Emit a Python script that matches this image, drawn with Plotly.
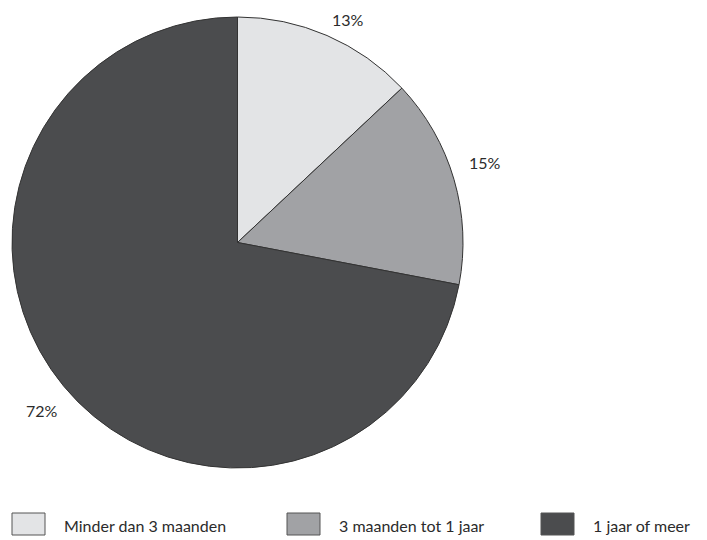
import math
import plotly.graph_objects as go

categories = ["Minder dan 3 maanden", "3 maanden tot 1 jaar", "1 jaar of meer"]
values = [13, 15, 72]
colors = ["#e3e4e6", "#a1a2a5", "#4b4c4e"]

W, H = 707, 540
cx, cy, r = 237.5, 242.5, 225.5

fig = go.Figure(go.Pie(
    labels=categories, values=values, sort=False, direction="clockwise", rotation=0,
    marker=dict(colors=colors, line=dict(color="#333333", width=1)),
    textinfo="none", hoverinfo="label+percent", showlegend=False,
    domain=dict(x=[(cx - r) / W, (cx + r) / W], y=[1 - (cy + r) / H, 1 - (cy - r) / H]),
))

# percentage labels outside each slice, computed from values
total = sum(values)
label_r = [r + 23, r + 35, r + 32]
label_shift_deg = [3.0, -1.8, -1.0]
cum = 0
annotations = []
for v, lr, sh in zip(values, label_r, label_shift_deg):
    mid = (cum + v / 2) / total * 2 * math.pi + math.radians(sh)
    cum += v
    x = cx + lr * math.sin(mid)
    y = cy - lr * math.cos(mid)
    annotations.append(dict(x=x / W, y=1 - y / H, xref="paper", yref="paper",
                            xanchor="center", yanchor="middle",
                            text=f"{round(v / total * 100)}%", showarrow=False,
                            font=dict(family="Lato", size=16, color="#2b2b2b")))

# custom legend
shapes = []
box_x = [12, 287, 541]
for i, (cat, col) in enumerate(zip(categories, colors)):
    x0 = box_x[i]
    shapes.append(dict(type="rect", xref="paper", yref="paper",
                       x0=x0 / W, x1=(x0 + 33) / W, y0=1 - 535 / H, y1=1 - 513 / H,
                       fillcolor=col, line=dict(color="#555555", width=1)))
    annotations.append(dict(x=(x0 + 50) / W, y=1 - 525 / H, xref="paper", yref="paper",
                            xanchor="left", yanchor="middle", text=cat, showarrow=False,
                            font=dict(family="Lato", size=16, color="#2b2b2b")))

fig.update_layout(width=W, height=H, margin=dict(l=0, r=0, t=0, b=0),
                  paper_bgcolor="white", plot_bgcolor="white",
                  annotations=annotations, shapes=shapes)
fig.write_html("out.html", config={"displayModeBar": False},
               post_script="document.body.style.margin='0';document.body.style.overflow='hidden';")
